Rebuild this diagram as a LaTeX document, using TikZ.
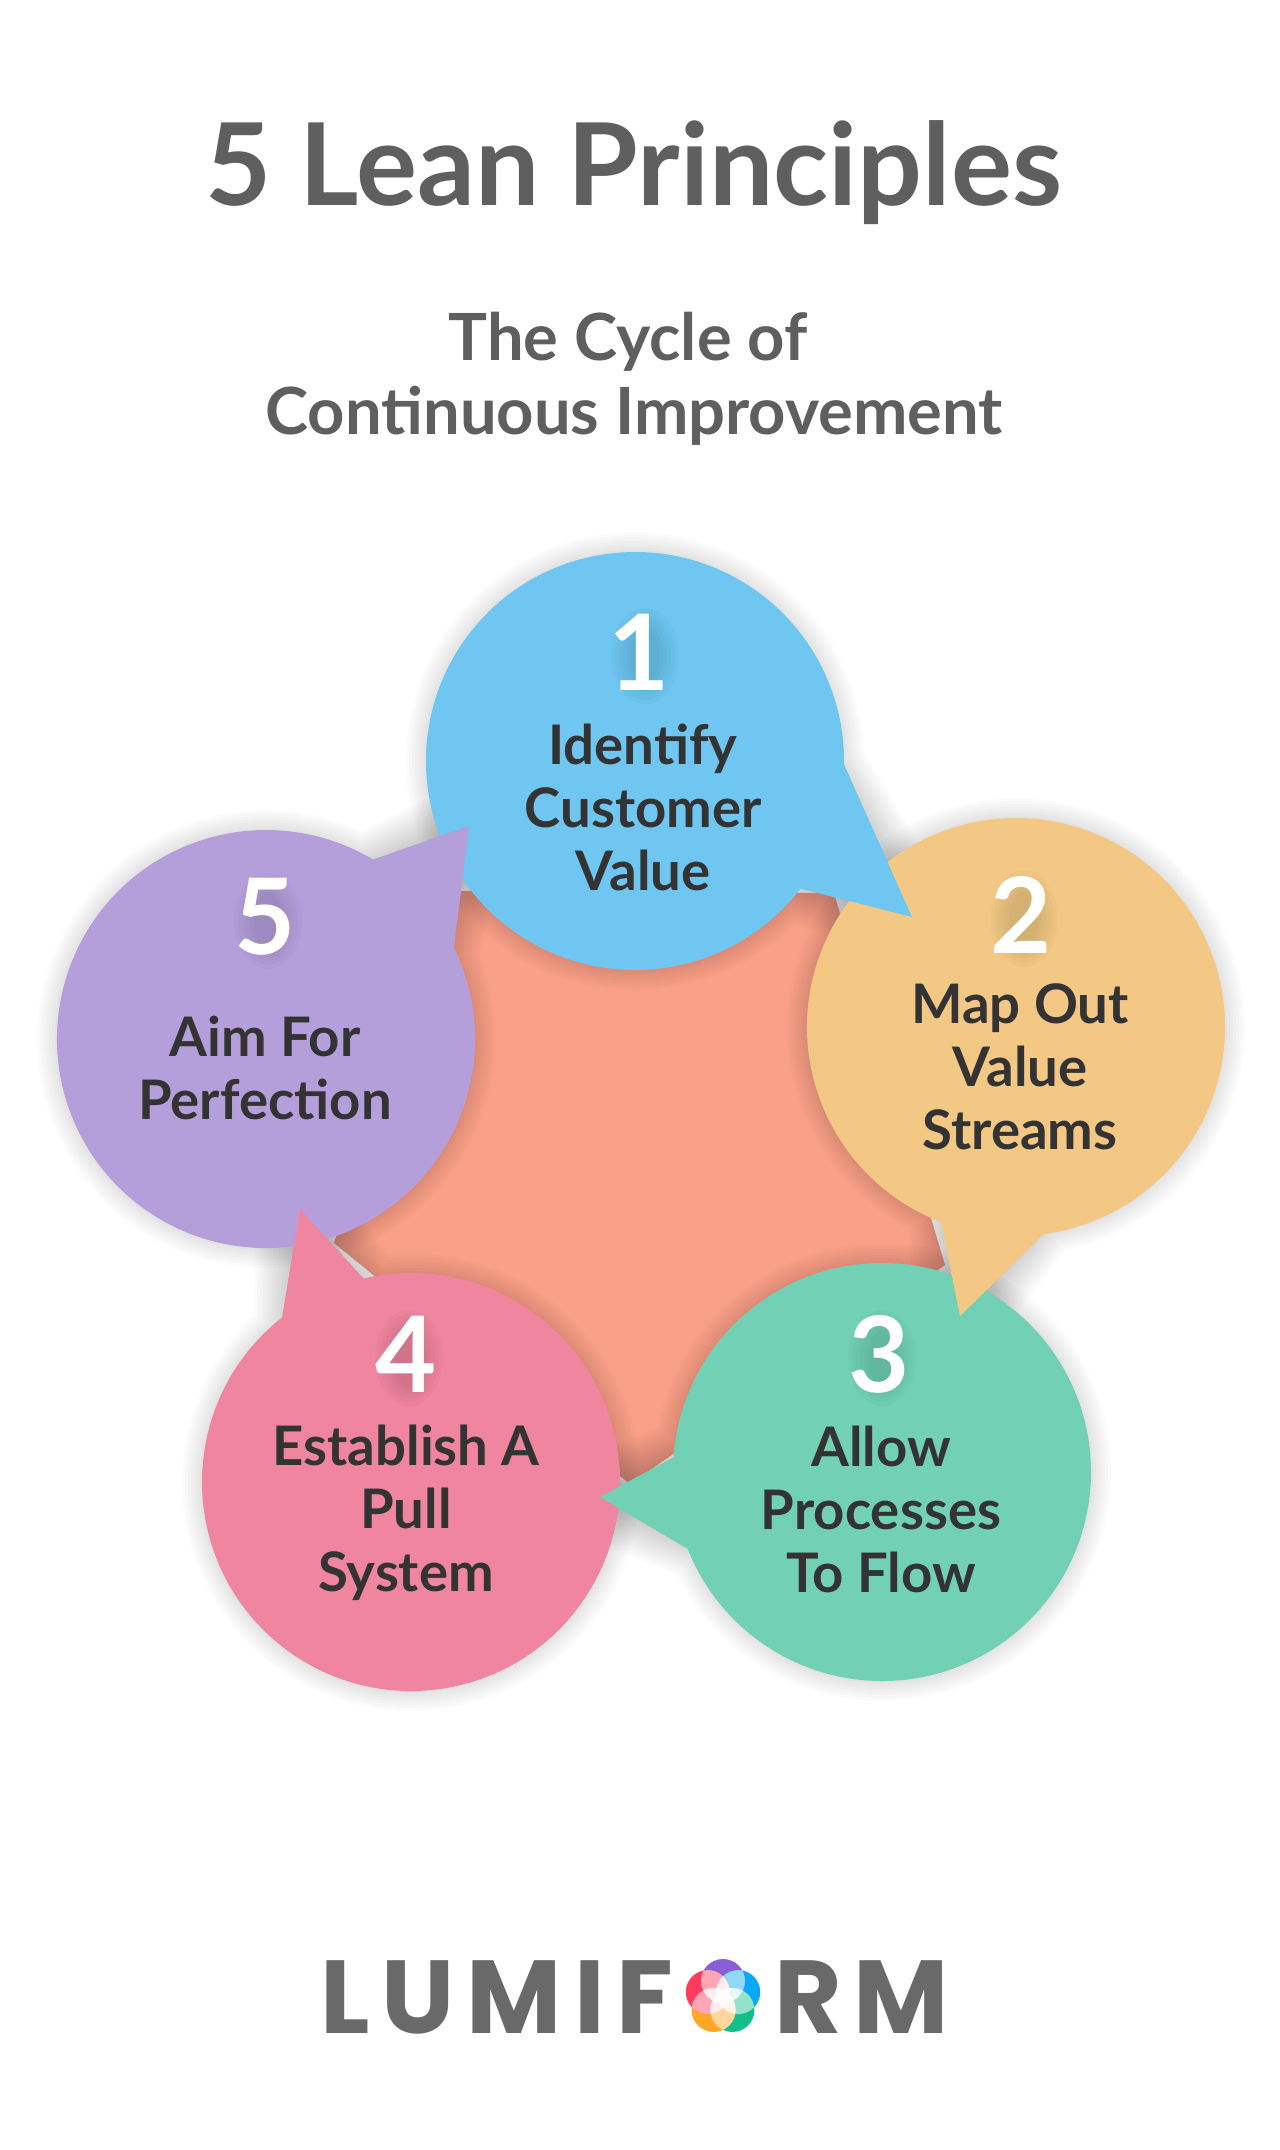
\documentclass[tikz,border=0pt]{standalone}
\usepackage{fontspec}
\setmainfont{Lato}
\newfontfamily\logofont{Poppins}
\usetikzlibrary{calc}
\definecolor{inkgray}{HTML}{5F5F5F}
\definecolor{inkdark}{HTML}{333333}
\definecolor{logogray}{HTML}{696969}
\definecolor{corecol}{HTML}{F9A088}
\definecolor{bubblea}{HTML}{6EC6F1}
\definecolor{bubbleb}{HTML}{F2C884}
\definecolor{bubblec}{HTML}{72D1B5}
\definecolor{bubbled}{HTML}{EF859F}
\definecolor{bubblee}{HTML}{B59FDB}
\definecolor{petala}{HTML}{8A5FD6}
\definecolor{petalb}{HTML}{0AA8F5}
\definecolor{petalc}{HTML}{10BF8A}
\definecolor{petald}{HTML}{FFA726}
\definecolor{petale}{HTML}{FF3B5C}
\tikzset{
  numlabel/.style={text=white,font=\fontsize{30}{30}\selectfont\bfseries},
  bubbletext/.style={text=inkdark,align=center,font=\fontsize{15.5}{17.9}\selectfont\bfseries},
  headtext/.style={text=inkgray,font=\fontsize{18.5}{21}\selectfont\bfseries,anchor=base},
  logotext/.style={text=logogray,font=\fontsize{29.5}{29.5}\logofont\bfseries,anchor=base west}
}
\newcommand{\bubbleshadow}[4]{
  \foreach \w in {4,10,...,88}{
    \path[fill=black,draw=black,opacity=0.017,line width=\w*0.01cm,line join=round,shift={(12,12)}]
      (#1) ++(#2:185) arc[start angle=#2,end angle=#3,radius=185] -- (#4) -- cycle;
  }
}
\newcommand{\bubble}[5]{
  \fill[#5] (#1) ++(#2:209) arc[start angle=#2,end angle=#3,radius=209] -- (#4) -- cycle;
}
\newcommand{\bubbletail}[5]{
  \fill[#5] (#4) -- ($(#1)+(#2:209)$) -- ($(#1)+(#3:209)$) -- cycle;
}
\begin{document}
\begin{tikzpicture}[x=0.01cm,y=-0.01cm]
\useasboundingbox (0,0) rectangle (1280,2150);
\fill[white] (0,0) rectangle (1280,2150);
\node[text=inkgray,font=\fontsize{32.5}{32.5}\selectfont\bfseries,anchor=base] (title) at (634,205) {5 Lean Principles};
\node[headtext] (subone) at (628,360) {The Cycle of};
\node[headtext] (subtwo) at (634,434) {Continuous Improvement};
\fill[corecol] (456,891) -- (834,893) -- (945,1265) -- (630,1484) -- (334,1243) -- cycle;
\coordinate (ca) at (635,761);
\coordinate (cb) at (1016,1027);
\coordinate (cc) at (882,1472);
\coordinate (cd) at (411,1482);
\coordinate (ce) at (266,1039);
\coordinate (ta) at (912,917);
\coordinate (tb) at (960,1316);
\coordinate (tc) at (600,1497);
\coordinate (td) at (300,1209);
\coordinate (te) at (469,826);
\bubbleshadow{ca}{37.6}{361}{ta}
\bubbleshadow{cb}{111}{442.5}{tb}
\bubbleshadow{cc}{184}{518.5}{tc}
\bubbleshadow{cd}{256.8}{592}{td}
\bubbleshadow{ce}{334}{660.9}{te}
\bubble{ca}{37.6}{361}{ta}{bubblea}
\bubble{cb}{111}{442.5}{tb}{bubbleb}
\bubble{cc}{184}{518.5}{tc}{bubblec}
\bubble{cd}{256.8}{592}{td}{bubbled}
\bubble{ce}{334}{660.9}{te}{bubblee}
\bubbletail{ca}{37.6}{1}{ta}{bubblea}
\bubbletail{cb}{111}{82.5}{tb}{bubbleb}
\bubbletail{cc}{184}{158.5}{tc}{bubblec}
\bubbletail{cd}{256.8}{232}{td}{bubbled}
\bubbletail{ce}{334}{300.9}{te}{bubblee}
\foreach \gx/\gy in {642/652,1021/915,879/1354,406/1354,265/917}{
  \foreach \g in {14,18,...,34}{
    \fill[black,opacity=0.018] (\gx+3,\gy+4) ellipse[x radius=\g,y radius=\g+14];
  }
}
\node[numlabel] (numa) at (639,652) {1};
\node[numlabel] (numb) at (1021,915) {2};
\node[numlabel] (numc) at (879,1354) {3};
\node[numlabel] (numd) at (406,1354) {4};
\node[numlabel] (nume) at (265,917) {5};
\node[bubbletext] (texta) at (643,807) {Identify\\Customer\\Value};
\node[bubbletext] (textb) at (1020,1067) {Map Out\\Value\\Streams};
\node[bubbletext] (textc) at (881,1509) {Allow\\Processes\\To Flow};
\node[bubbletext] (textd) at (406,1513) {Establish A\\Pull\\System};
\node[bubbletext] (texte) at (265,1068) {Aim For\\Perfection};
\node[logotext] (logoa) at (308,2033) {L\kern3.4pt U\kern3.4pt M\kern3.4pt I\kern3.4pt F};
\node[logotext] (logob) at (762,2033) {R\kern3.4pt M};
\coordinate (flower) at (723,1997);
\foreach \ang/\col in {-90/petala,-18/petalb,54/petalc,126/petald,198/petale}{
  \fill[\col] (flower) ++(\ang:16) circle (22);
}
\foreach \anga in {-90,-18,54,126,198}{
  \foreach \angb in {-90,-18,54,126,198}{
    \ifnum\anga<\angb
      \begin{scope}
      \clip (flower) ++(\anga:16) circle (22);
      \fill[white,opacity=0.55] (flower) ++(\angb:16) circle (22);
      \end{scope}
    \fi
  }
}
\end{tikzpicture}
\end{document}
